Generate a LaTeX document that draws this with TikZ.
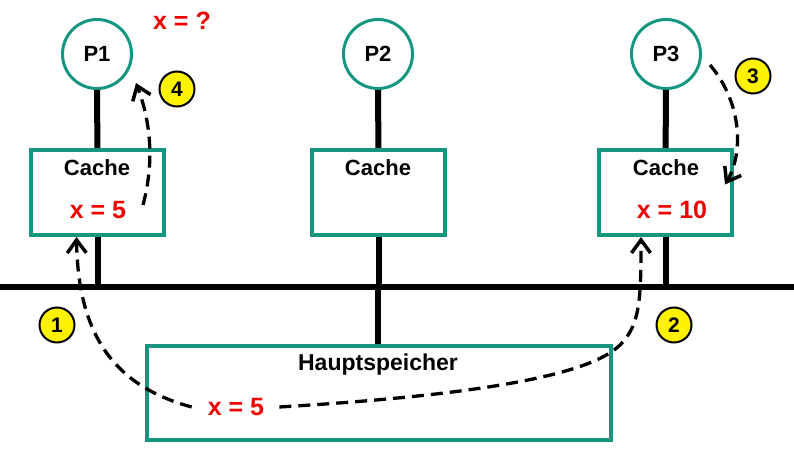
\documentclass[tikz,border=0pt]{standalone}
\usepackage{fontspec}
\setmainfont{Liberation Sans}
\usetikzlibrary{arrows.meta}
\definecolor{teal1}{RGB}{20,150,128}
\definecolor{red1}{RGB}{240,0,0}
\begin{document}
\begin{tikzpicture}[x=1pt,y=-1pt,
 proc/.style={circle,draw=teal1,line width=3pt,minimum size=69pt,inner sep=0pt,font=\fontsize{22}{26}\selectfont\bfseries},
 cachebox/.style={draw=teal1,line width=4pt,minimum width=133pt,minimum height=85pt,inner sep=0pt},
 lbl/.style={font=\fontsize{22}{26}\selectfont\bfseries},
 val/.style={text=red1,font=\fontsize{25}{30}\selectfont\bfseries,inner sep=1pt},
 num/.style={circle,draw=black,fill=yellow,line width=2pt,minimum size=35pt,inner sep=0pt,font=\fontsize{21}{25}\selectfont\bfseries},
 bus/.style={line width=6pt},
 flow/.style={line width=3.3pt,dash pattern=on 12pt off 7pt,-{Straight Barb[length=13pt,width=19pt,line width=3.5pt]}}
]
\useasboundingbox (0,0) rectangle (794,449);
% processors
\node[proc] (p1) at (97,54) {P1};
\node[proc] (p2) at (378,54) {P2};
\node[proc] (p3) at (666,54) {P3};
% caches
\node[cachebox] (c1) at (97.5,192.5) {};
\node[cachebox] (c2) at (378.5,192.5) {};
\node[cachebox] (c3) at (665.5,192.5) {};
\node[lbl] (t1) at (97,168) {Cache};
\node[lbl] (t2) at (378,168) {Cache};
\node[lbl] (t3) at (666,168) {Cache};
% memory
\node[cachebox,minimum width=464pt,minimum height=94pt] (mem) at (379,393) {};
\node[lbl,font=\fontsize{23}{27}\selectfont\bfseries] (tm) at (378,365) {Hauptspeicher};
% bus
\coordinate (busL) at (0,287);
\coordinate (busR) at (794,287);
\draw[bus] (busL) -- (busR);
\draw[bus] (p1) -- (c1);
\draw[bus] (p2) -- (c2);
\draw[bus] (p3) -- (c3);
\draw[bus] (c1.south) -- (c1.south |- busL);
\draw[bus] (c2.south) -- (c2.south |- busL);
\draw[bus] (c3.south) -- (c3.south |- busL);
\draw[bus] ([xshift=-1.5pt]mem.north) -- ([xshift=-1.5pt]mem.north |- busL);
% values
\node[val] (q) at (182,21) {x = ?};
\node[val] (v1) at (98,210) {x = 5};
\node[val] (v3) at (672,210) {x = 10};
\node[val] (m5) at (236,407) {x = 5};
% step numbers
\node[num] (n1) at (57,325) {1};
\node[num] (n2) at (674,325) {2};
\node[num] (n3) at (753,76) {3};
\node[num] (n4) at (177,89) {4};
% flows
\draw[flow] ([xshift=-15pt]m5.west) .. controls (110,385) and (78,330) .. ([xshift=-21pt]c1.south);
\draw[flow] ([xshift=14pt]m5.east) .. controls (480,395) and (590,375) .. (620,345) .. controls (640,325) and (641,300) .. ([xshift=-24.5pt]c3.south);
\draw[flow] ([xshift=44pt,yshift=-11pt]p3.center) .. controls (740,100) and (745,150) .. ([xshift=-9pt,yshift=8pt]c3.east);
\draw[flow] ([xshift=-23pt,yshift=-12.5pt]c1.east) .. controls (155,160) and (150,120) .. ([xshift=39pt,yshift=-29pt]p1.center);
\end{tikzpicture}
\end{document}
